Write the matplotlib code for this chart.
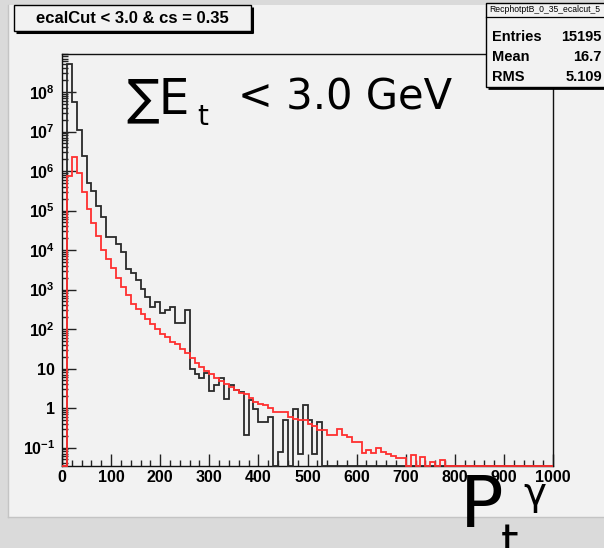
import numpy as np
import matplotlib
matplotlib.use("Agg")
import matplotlib.pyplot as plt
from matplotlib.patches import Rectangle
from matplotlib.ticker import FixedLocator, MultipleLocator, LogLocator, NullFormatter

# ---------------- data ----------------
bin_edges = np.arange(0, 1001, 10)

black_counts = [
    0, 5.1e8, 5.6e7, 1.1e7, 2.4e6, 5.0e5, 3.2e5, 1.3e5, 6.8e4, 2.1e4,
    2.1e4, 1.45e4, 9.1e3, 3.4e3, 2.6e3, 1.7e3, 1.05e3, 660, 360, 470,
    260, 295, 360, 145, 145, 300, 10, 7.4, 5.9, 7.9,
    2.75, 3.8, 5.6, 1.66, 3.8, 2.8, 2.6, 0.21, 1.55, 0.93,
    0.43, 0.43, 0.59, 0, 0.079, 0.51, 0, 0.93, 0.068, 1.17,
    0.51, 0.068, 0.43, 0, 0, 0, 0, 0, 0, 0,
    0, 0, 0, 0, 0, 0, 0, 0, 0, 0,
    0, 0, 0, 0, 0, 0, 0, 0, 0, 0,
    0, 0, 0, 0, 0, 0, 0, 0, 0, 0,
    0, 0, 0, 0, 0, 0, 0, 0, 0, 0,
]

red_counts = [
    0, 7.4e5, 2.2e6, 8.7e5, 2.9e5, 1.1e5, 4.8e4, 2.2e4, 1.0e4, 5.9e3,
    3.6e3, 2.0e3, 1.15e3, 710, 430, 320, 240, 180, 135, 100,
    76, 62, 47, 42, 32, 24, 18.6, 13.8, 11, 8.7,
    7.2, 5.6, 4.7, 4.0, 3.5, 2.9, 2.45, 2.2, 1.8, 1.45,
    1.3, 1.2, 1.0, 0.81, 0.81, 0.81, 0.60, 0.52, 0.50, 0.50,
    0.39, 0.35, 0.275, 0.275, 0.21, 0.21, 0.30, 0.21, 0.19, 0.14,
    0.14, 0.071, 0.089, 0.074, 0.10, 0.079, 0.069, 0.062, 0.054, 0.054,
    0, 0.065, 0, 0.059, 0, 0.044, 0, 0.047, 0, 0,
    0, 0, 0, 0, 0, 0, 0, 0, 0, 0,
    0, 0, 0, 0, 0, 0, 0, 0, 0, 0,
]

x_ticks = [0, 100, 200, 300, 400, 500, 600, 700, 800, 900, 1000]
x_tick_labels = ["0", "100", "200", "300", "400", "500", "600", "700", "800", "900", "1000"]
y_ticks = [1e-1, 1, 1e1, 1e2, 1e3, 1e4, 1e5, 1e6, 1e7, 1e8]
y_tick_labels = [r"$\mathbf{10^{-1}}$", "1", "10", r"$\mathbf{10^{2}}$", r"$\mathbf{10^{3}}$",
                 r"$\mathbf{10^{4}}$", r"$\mathbf{10^{5}}$", r"$\mathbf{10^{6}}$",
                 r"$\mathbf{10^{7}}$", r"$\mathbf{10^{8}}$"]

title_text = "ecalCut < 3.0 & cs = 0.35"
stats_name = "RecphotptB_0_35_ecalcut_5"
stats_labels = ["Entries", "Mean", "RMS"]
stats_values = ["15195", "16.7", "5.109"]

# ---------------- style ----------------
plt.rcParams["mathtext.fontset"] = "custom"
plt.rcParams["mathtext.bf"] = "Liberation Sans:bold"
plt.rcParams["mathtext.rm"] = "Liberation Sans:bold"
plt.rcParams["mathtext.it"] = "Liberation Sans:bold"

W, H = 604, 548
CANVAS = "#f2f2f2"
fig = plt.figure(figsize=(W / 100, H / 100), dpi=100)
fig.patch.set_facecolor("#dadada")


def px_rect(l, t, r, b):
    return [l / W, 1 - b / H, (r - l) / W, (b - t) / H]


# background canvas
bg = fig.add_axes([0, 0, 1, 1], zorder=0)
bg.set_xlim(0, W)
bg.set_ylim(H, 0)
bg.axis("off")
bg.add_patch(Rectangle((8, 5), W - 8, 512, facecolor=CANVAS, edgecolor="none"))
bg.plot([8, 8], [5, 517], color="#c4c4c4", lw=1)
bg.plot([8, W], [517, 517], color="#c4c4c4", lw=1)

# main axes
ymin, ymax = 10 ** -1.468, 10 ** 8.962
ax = fig.add_axes(px_rect(62, 54, 553, 466), zorder=1)
ax.set_facecolor(CANVAS)
ax.set_yscale("log")
ax.set_xlim(0, 1000)
ax.set_ylim(ymin, ymax)

bc = np.array(black_counts, dtype=float)
rc = np.array(red_counts, dtype=float)
bc = np.where(bc > 0, bc, ymin)
rc = np.where(rc > 0, rc, ymin)
ax.stairs(bc, bin_edges, baseline=ymin, color="#2a2a2a", lw=1.3, zorder=3, clip_on=False)
ax.stairs(rc, bin_edges, baseline=ymin, color="#ff3030", lw=1.3, zorder=3.1, clip_on=False)

for s in ax.spines.values():
    s.set_color("#111111")
    s.set_linewidth(1.0)

ax.xaxis.set_major_locator(FixedLocator(x_ticks))
ax.xaxis.set_minor_locator(MultipleLocator(20))
ax.set_xticklabels(x_tick_labels, fontfamily="Liberation Sans", fontweight="bold", fontsize=11.5)
ax.yaxis.set_major_locator(FixedLocator(y_ticks))
ax.yaxis.set_minor_locator(LogLocator(base=10, subs=np.arange(2, 10), numticks=30))
ax.yaxis.set_minor_formatter(NullFormatter())
ax.set_yticklabels(y_tick_labels, fontfamily="Liberation Sans", fontweight="bold", fontsize=11.5)

ax.tick_params(axis="x", which="major", direction="in", length=8.6, width=1.0, pad=3, colors="#222222")
ax.tick_params(axis="x", which="minor", direction="in", length=4.0, width=1.0, colors="#222222")
ax.tick_params(axis="y", which="major", direction="in", length=10, width=1.0, pad=5, colors="#222222")
ax.tick_params(axis="y", which="minor", direction="in", length=4.5, width=1.0, colors="#222222")
ax.tick_params(labelcolor="black")

# overlay for boxes and big labels
ov = fig.add_axes([0, 0, 1, 1], zorder=5)
ov.set_xlim(0, W)
ov.set_ylim(H, 0)
ov.axis("off")
ov.patch.set_alpha(0)

# title box
ov.add_patch(Rectangle((14, 5), 237, 26, facecolor=CANVAS, edgecolor="black", lw=1.0))
ov.plot([16, 252.5], [31.8, 31.8], color="black", lw=2.2, solid_capstyle="butt")
ov.plot([251.8, 251.8], [7, 32.5], color="black", lw=2.2, solid_capstyle="butt")
ov.text(132, 18.5, title_text, fontfamily="Liberation Sans", fontweight="bold",
        fontsize=12, ha="center", va="center")

# stats box
ov.add_patch(Rectangle((486, 3), 140, 84, facecolor=CANVAS, edgecolor="black", lw=1.0))
ov.plot([488, 610], [88, 88], color="black", lw=2.0, solid_capstyle="butt")
ov.plot([486, 610], [17, 17], color="black", lw=0.9)
ov.text(489, 10, stats_name, fontfamily="Liberation Sans", fontsize=6.2, ha="left", va="center")
for i, (lab, val) in enumerate(zip(stats_labels, stats_values)):
    yy = 37 + i * 20
    ov.text(492, yy, lab, fontfamily="Liberation Sans", fontweight="bold", fontsize=10.5,
            ha="left", va="center")
    ov.text(602, yy, val, fontfamily="Liberation Sans", fontweight="bold", fontsize=10.5,
            ha="right", va="center")

# big handwritten-style labels
ov.text(126, 113, "\u2211E", fontfamily="DejaVu Sans", fontsize=35, ha="left", va="baseline")
ov.text(197, 125, "t", fontfamily="DejaVu Sans", fontsize=20, ha="left", va="baseline")
ov.text(238, 110, "< 3.0 GeV", fontfamily="DejaVu Sans", fontsize=30, ha="left", va="baseline")
ov.text(460, 527, "P", fontfamily="DejaVu Sans", fontsize=52, ha="left", va="baseline")
ov.text(501, 556, "t", fontfamily="DejaVu Sans", fontsize=32, ha="left", va="baseline")
ov.text(523, 505, "\u03b3", fontfamily="DejaVu Sans", fontsize=28, ha="left", va="baseline")

fig.savefig("out.png", dpi=100, facecolor=fig.get_facecolor())
